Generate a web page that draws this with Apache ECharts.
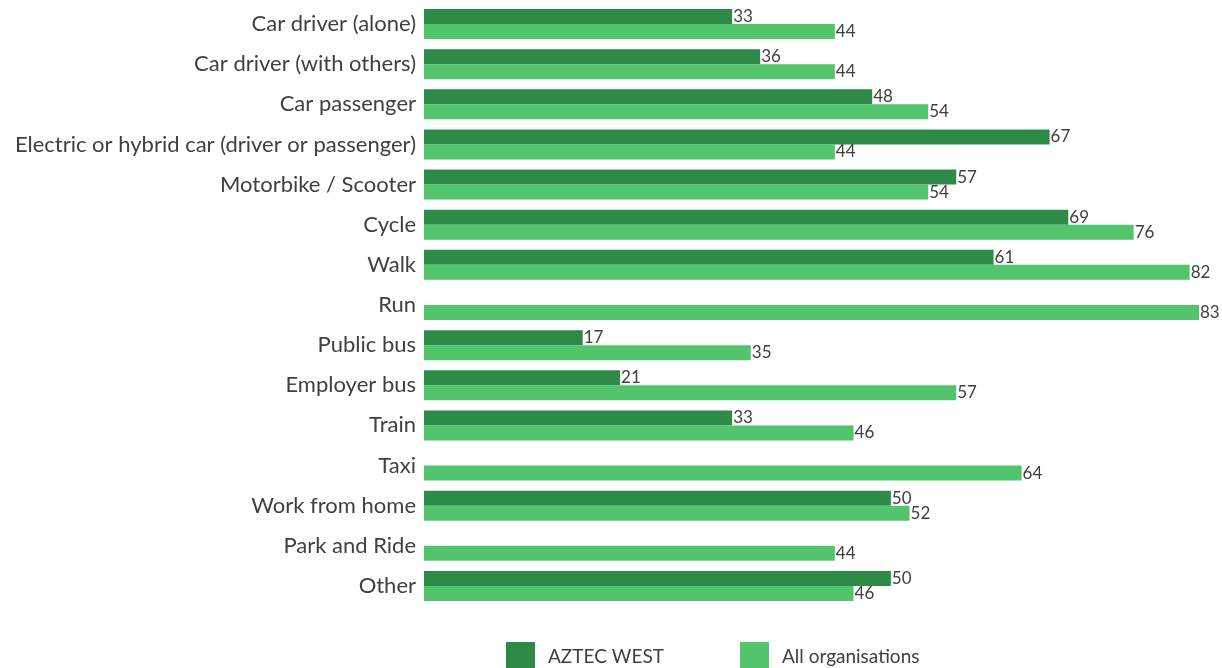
<!DOCTYPE html>
<html>
<head>
<meta charset="utf-8">
<script src="https://cdn.jsdelivr.net/npm/echarts@6/dist/echarts.min.js"></script>
<style>html,body{margin:0;padding:0;background:#fff}#c{width:1222px;height:668px}</style>
</head>
<body>
<div id="c"></div>
<script>
const categories = ["Car driver (alone)","Car driver (with others)","Car passenger","Electric or hybrid car (driver or passenger)","Motorbike / Scooter","Cycle","Walk","Run","Public bus","Employer bus","Train","Taxi","Work from home","Park and Ride","Other"];
const aztecWest = [33,36,48,67,57,69,61,null,17,21,33,null,50,null,50];
const allOrgs = [44,44,54,44,54,76,82,83,35,57,46,64,52,44,46];
const seriesNames = ["AZTEC WEST","All organisations"];

const FONT = "Lato";
const chart = echarts.init(document.getElementById('c'), null, {renderer:'canvas'});
const lbl = {show:true, position:'right', distance:1, color:'#404040', fontSize:17, fontFamily:FONT};
const legendText = {fontSize:19, color:'#404040', fontFamily:FONT, padding:[0,0,0,8]};
chart.setOption({
  animation:false,
  textStyle:{fontFamily:FONT},
  grid:{left:424, right:23, top:4, bottom:62, containLabel:false},
  legend:[
    {left:506, top:642, padding:0, itemWidth:29, itemHeight:29, icon:'rect', textStyle:legendText, data:[seriesNames[0]]},
    {left:740, top:642, padding:0, itemWidth:29, itemHeight:29, icon:'rect', textStyle:legendText, data:[seriesNames[1]]}
  ],
  xAxis:{type:'value', min:0, max:83, show:false},
  yAxis:{type:'category', inverse:true, data:categories,
    axisLine:{show:false}, axisTick:{show:false},
    axisLabel:{fontSize:22, color:'#404040', margin:8, fontFamily:FONT}},
  series:[
    {name:seriesNames[0], type:'bar', data:aztecWest, itemStyle:{color:'#2E8B47'}, barWidth:15, barGap:'0%', label:lbl},
    {name:seriesNames[1], type:'bar', data:allOrgs, itemStyle:{color:'#52C46C'}, barWidth:15, barGap:'0%', label:lbl}
  ]
});
</script>
</body>
</html>
